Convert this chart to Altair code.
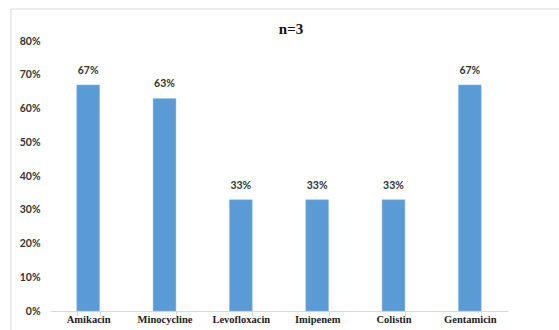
import altair as alt
import pandas as pd

drugs = ["Amikacin", "Minocycline", "Levofloxacin", "Imipenem", "Colistin", "Gentamicin"]
values = [0.67, 0.63, 0.33, 0.33, 0.33, 0.67]
labels = ["67%", "63%", "33%", "33%", "33%", "67%"]
y_ticks = [0, 0.1, 0.2, 0.3, 0.4, 0.5, 0.6, 0.7, 0.8]
title_text = ["n=3"]

df = pd.DataFrame({"drug": drugs, "value": values, "label": labels})
tdf = pd.DataFrame({"t": title_text})

x = alt.X("drug:N", sort=drugs, title=None,
          scale=alt.Scale(paddingInner=0.7, paddingOuter=0.35),
          axis=alt.Axis(labelAngle=0, labelFont="Liberation Serif", labelFontWeight="bold",
                        labelFontSize=10.5, labelColor="#222", labelPadding=3,
                        domainColor="#d9d9d9", tickColor="#d9d9d9", tickSize=5,
                        tickBand="extent", labelBaseline="middle", labelOverlap=False))
y = alt.Y("value:Q", title=None,
          scale=alt.Scale(domain=[0, 0.8]),
          axis=alt.Axis(format=".0%", values=y_ticks, tickCount=9,
                        grid=False, domain=False, ticks=False, labelPadding=10,
                        labelFont="Lato", labelFontWeight="bold", labelFontSize=10.5,
                        labelColor="#333", labelOverlap=False, labelSeparation=0))

bars = alt.Chart(df).mark_bar(color="#5b9bd5", stroke="#9cc3e6", strokeWidth=0.5).encode(x=x, y=y)
text = alt.Chart(df).mark_text(dy=-9, baseline="bottom", font="Lato", fontWeight="bold",
                               fontSize=10.5, color="#333").encode(
    x=x, y=y, text="label:N")

title = alt.Chart(tdf).mark_text(font="Liberation Serif", fontSize=15, fontWeight="bold",
                                 color="#111", baseline="middle").encode(
    x=alt.value(241), y=alt.value(-12), text="t:N")

border_l = alt.Chart(tdf).mark_rule(color="#d9d9d9", strokeWidth=1).encode(
    x=alt.value(-39), y=alt.value(-32), y2=alt.value(400))
border_t = alt.Chart(tdf).mark_rule(color="#d9d9d9", strokeWidth=1).encode(
    x=alt.value(-39), x2=alt.value(600), y=alt.value(-32))

chart = alt.layer(border_l, border_t, bars, text, title).properties(
    width=458, height=270,
    autosize=alt.AutoSizeParams(type="none"),
    padding={"left": 50, "top": 41, "right": 51, "bottom": 19},
).configure_view(stroke=None)

chart.save("out.html", embed_options={"renderer": "svg", "actions": False})
